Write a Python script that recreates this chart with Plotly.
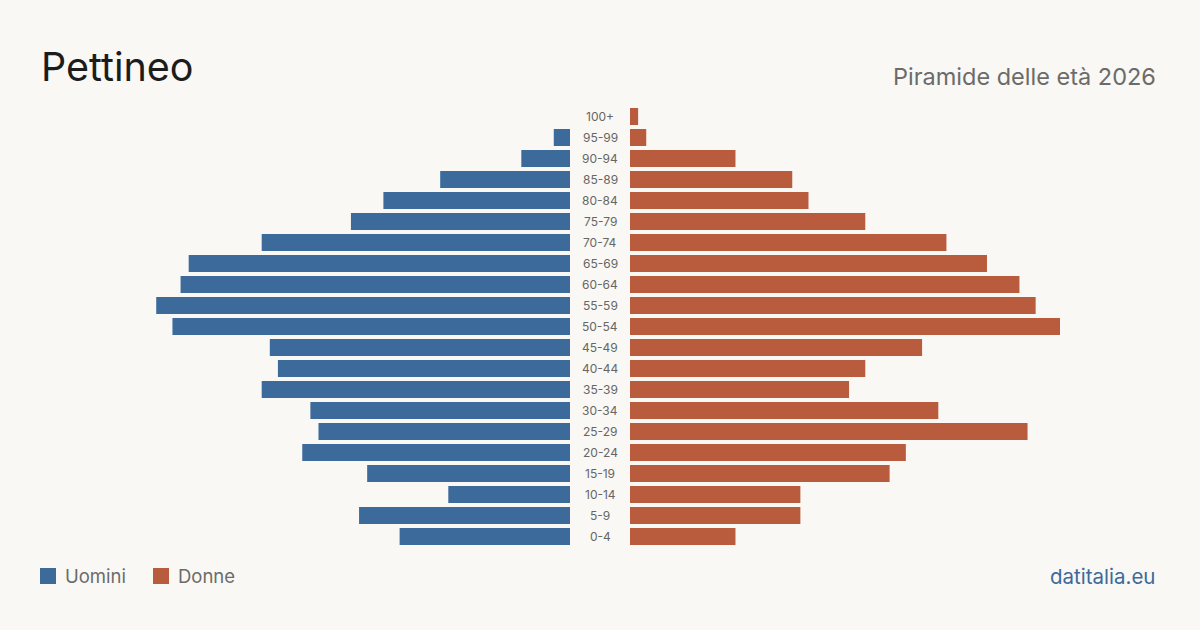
import plotly.graph_objects as go

age_groups = ["0-4", "5-9", "10-14", "15-19", "20-24", "25-29", "30-34", "35-39",
              "40-44", "45-49", "50-54", "55-59", "60-64", "65-69", "70-74",
              "75-79", "80-84", "85-89", "90-94", "95-99", "100+"]
men = [21, 26, 15, 25, 33, 31, 32, 38, 36, 37, 49, 51, 48, 47, 38, 27, 23, 16, 6, 2, 0]
women = [13, 21, 21, 32, 34, 49, 38, 27, 29, 36, 53, 50, 48, 44, 39, 29, 22, 20, 13, 2, 1]

title_text = "Pettineo"
subtitle_text = "Piramide delle età 2026"
legend_names = ["Uomini", "Donne"]
source_text = "datitalia.eu"

BLUE = "#3b6a9b"
ORANGE = "#b95c3d"
BG = "#f9f8f4"
FONT = "Inter"
W, H = 1200, 630

xmax = max(max(men), max(women))

fig = go.Figure()
fig.add_trace(go.Bar(y=age_groups, x=men, orientation="h",
                     marker=dict(color=BLUE, line=dict(width=0)),
                     xaxis="x", yaxis="y", name=legend_names[0], showlegend=False,
                     hoverinfo="x+y"))
fig.add_trace(go.Bar(y=age_groups, x=women, orientation="h",
                     marker=dict(color=ORANGE, line=dict(width=0)),
                     xaxis="x2", yaxis="y2", name=legend_names[1], showlegend=False,
                     hoverinfo="x+y"))

ytop, ybot = 106, 547
ydom = [1 - ybot / H, 1 - ytop / H]

fig.update_layout(
    width=W, height=H,
    margin=dict(l=0, r=0, t=0, b=0),
    paper_bgcolor=BG, plot_bgcolor=BG,
    bargap=0.19,
    xaxis=dict(domain=[140 / W, 570 / W], range=[xmax, 0], visible=False, fixedrange=True),
    xaxis2=dict(domain=[630 / W, 1060 / W], range=[0, xmax], visible=False, fixedrange=True),
    yaxis=dict(domain=ydom, visible=False, categoryorder="array", categoryarray=age_groups,
               anchor="x"),
    yaxis2=dict(domain=ydom, visible=False, categoryorder="array", categoryarray=age_groups,
                anchor="x2", matches="y"),
    font=dict(family=FONT),
)

annotations = []
for g in age_groups:
    annotations.append(dict(x=0.5, xref="paper", y=g, yref="y", text=g, showarrow=False,
                            xanchor="center", yanchor="middle",
                            font=dict(family=FONT, size=12, color="#666666")))

annotations.append(dict(x=39 / W, y=1 - 67 / H, xref="paper", yref="paper", text=title_text,
                        showarrow=False, xanchor="left", yanchor="middle",
                        font=dict(family=FONT, size=39.5, color="#1c1c1c")))
annotations.append(dict(x=1158 / W, y=1 - 76 / H, xref="paper", yref="paper", text=subtitle_text,
                        showarrow=False, xanchor="right", yanchor="middle",
                        font=dict(family=FONT, size=23.5, color="#6b6b6b")))
annotations.append(dict(x=1157 / W, y=1 - 576 / H, xref="paper", yref="paper", text=source_text,
                        showarrow=False, xanchor="right", yanchor="middle",
                        font=dict(family=FONT, size=20.5, color=BLUE)))

# legend
legend_items = [(legend_names[0], BLUE, 40), (legend_names[1], ORANGE, 153)]
shapes = []
for name, col, x0 in legend_items:
    shapes.append(dict(type="rect", xref="paper", yref="paper",
                       x0=x0 / W, x1=(x0 + 16) / W, y0=1 - 584 / H, y1=1 - 568 / H,
                       fillcolor=col, line=dict(width=0)))
    annotations.append(dict(x=(x0 + 23) / W, y=1 - 576 / H, xref="paper", yref="paper",
                            text=name, showarrow=False, xanchor="left", yanchor="middle",
                            font=dict(family=FONT, size=18.5, color="#6b6b6b")))

fig.update_layout(annotations=annotations, shapes=shapes)
fig.write_html("out.html")
